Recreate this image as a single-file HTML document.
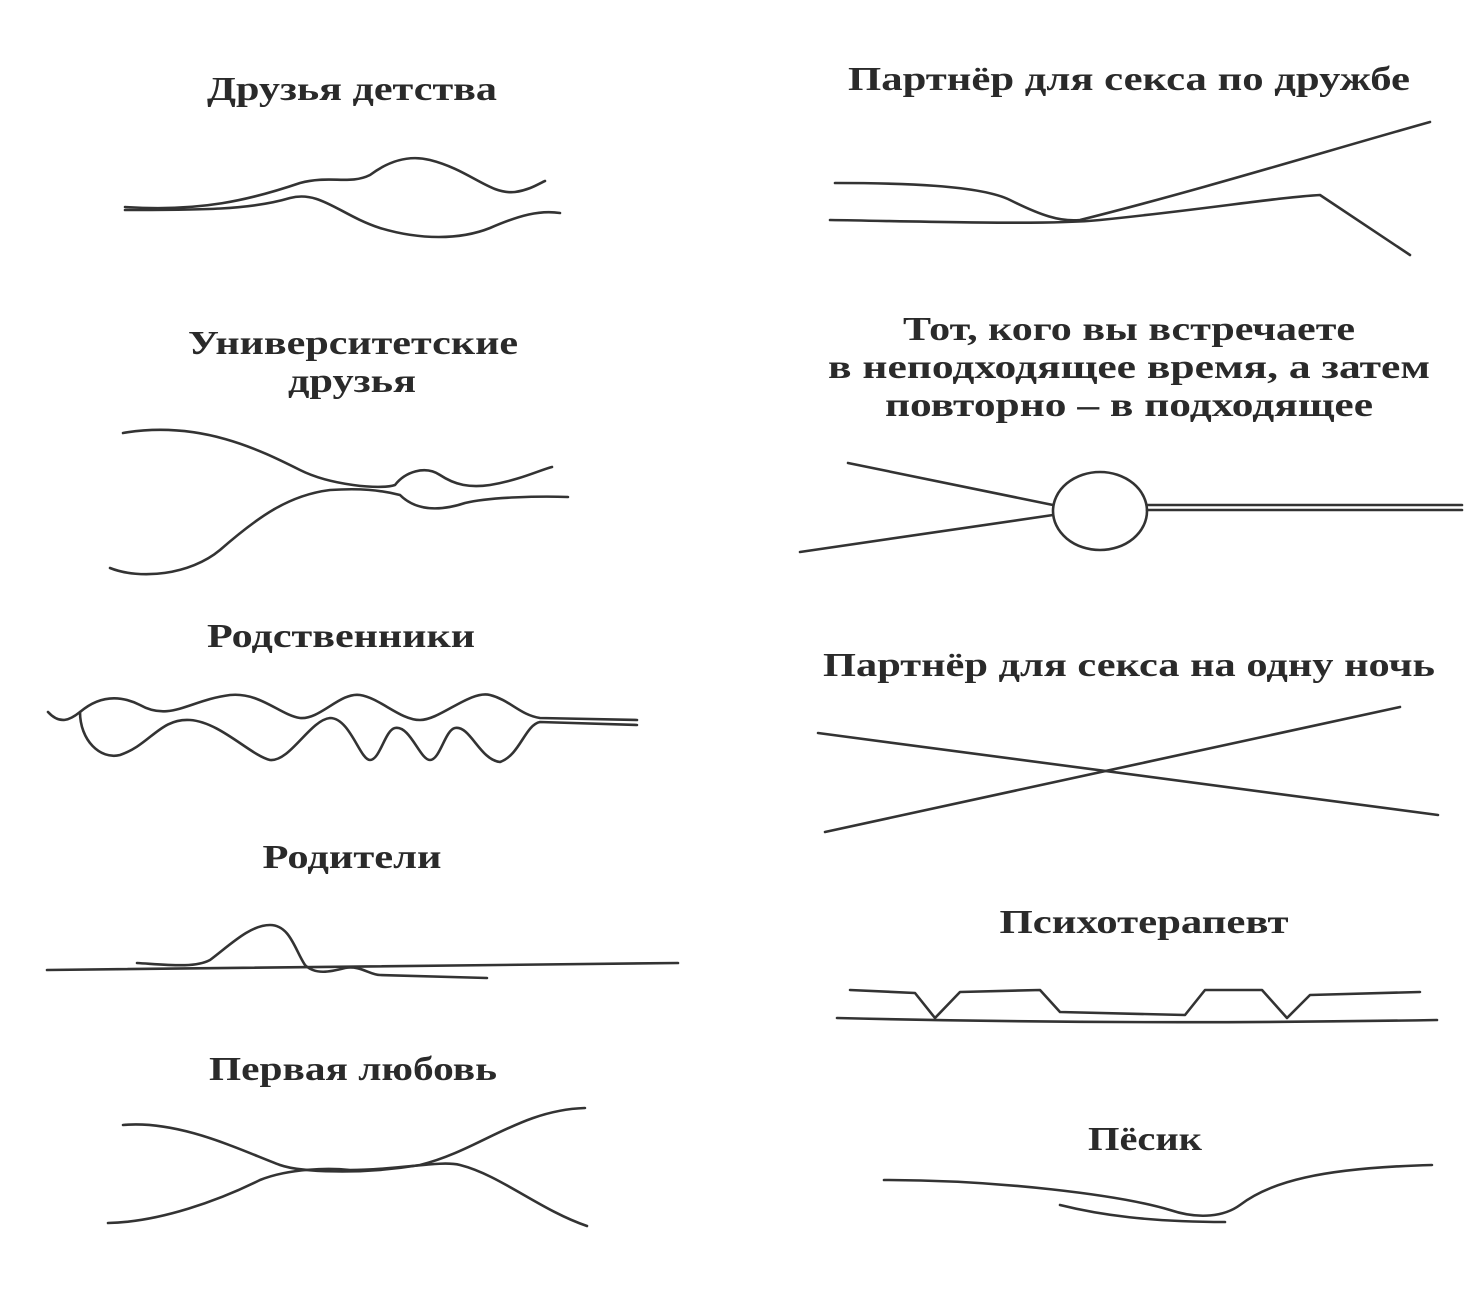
<!DOCTYPE html>
<html><head><meta charset="utf-8"><style>
html,body{margin:0;padding:0;background:#fff;}
svg{display:block}
text{font-family:"Liberation Serif","DejaVu Serif",serif;font-weight:bold;font-size:34px;fill:#2a2a2a;text-anchor:middle}
path,ellipse{fill:none;stroke:#333;stroke-width:2.6;stroke-linecap:round;stroke-linejoin:round}
</style></head><body>
<svg width="1472" height="1304" viewBox="0 0 1472 1304" xmlns="http://www.w3.org/2000/svg">
<rect width="1472" height="1304" fill="#fff"/>
<text x="352" y="100" textLength="290" lengthAdjust="spacingAndGlyphs">Друзья детства</text>
<text x="353" y="354" textLength="330" lengthAdjust="spacingAndGlyphs">Университетские</text>
<text x="352" y="392" textLength="128" lengthAdjust="spacingAndGlyphs">друзья</text>
<text x="341" y="647" textLength="268" lengthAdjust="spacingAndGlyphs">Родственники</text>
<text x="352" y="868" textLength="179" lengthAdjust="spacingAndGlyphs">Родители</text>
<text x="353" y="1080" textLength="288" lengthAdjust="spacingAndGlyphs">Первая любовь</text>
<text x="1129" y="90" textLength="562" lengthAdjust="spacingAndGlyphs">Партнёр для секса по дружбе</text>
<text x="1129" y="340" textLength="452" lengthAdjust="spacingAndGlyphs">Тот, кого вы встречаете</text>
<text x="1129" y="378" textLength="602" lengthAdjust="spacingAndGlyphs">в неподходящее время, а затем</text>
<text x="1129" y="416" textLength="488" lengthAdjust="spacingAndGlyphs">повторно – в подходящее</text>
<text x="1129" y="676" textLength="612" lengthAdjust="spacingAndGlyphs">Партнёр для секса на одну ночь</text>
<text x="1144" y="933" textLength="289" lengthAdjust="spacingAndGlyphs">Психотерапевт</text>
<text x="1145" y="1150" textLength="114" lengthAdjust="spacingAndGlyphs">Пёсик</text>

<path d="M125,207 C200,212 250,200 300,183 C330,175 350,185 370,175 C390,160 410,155 430,160 C470,170 490,195 515,192 C530,190 540,183 545,181"/>
<path d="M125,210 C200,210 250,210 290,198 C320,190 340,215 380,228 C420,240 460,240 490,228 C520,215 540,210 560,213"/>
<path d="M123,433 C200,420 260,450 300,470 C330,485 380,490 395,485 C405,472 425,465 440,475 C455,485 470,488 490,485 C520,480 540,470 552,467"/>
<path d="M110,568 C140,580 190,575 220,550 C260,515 290,495 330,490 C360,488 380,490 400,495 C420,515 450,508 465,503 C490,497 540,496 568,497"/>
<path d="M48,712 C60,725 70,720 80,712 C100,695 120,695 140,705 C170,722 190,700 230,695 C260,692 280,715 300,718 C320,720 340,692 360,695 C380,698 400,720 420,720 C440,720 470,690 490,695 C510,700 520,715 540,718 L637,720"/>
<path d="M80,712 C80,740 100,760 120,755 C150,745 160,718 190,720 C220,722 250,755 270,760 C290,762 310,720 330,718 C350,718 360,760 370,760 C380,760 385,730 395,728 C410,725 420,760 430,760 C440,760 445,730 455,728 C470,725 480,760 500,762 C520,755 525,725 540,722 L637,725"/>
<path d="M47,970 L678,963"/>
<path d="M137,963 C170,965 195,968 210,960 C230,945 250,925 270,925 C290,925 295,950 305,965 C315,975 330,972 345,968 C360,965 370,975 380,975 L487,978"/>
<path d="M123,1125 C180,1120 240,1150 280,1165 C300,1172 360,1175 420,1165 C480,1150 520,1110 585,1108"/>
<path d="M108,1223 C160,1222 220,1200 260,1180 C290,1168 330,1168 350,1170 C400,1170 440,1160 460,1165 C500,1175 540,1210 587,1226"/>
<path d="M835,183 C900,183 980,185 1010,200 C1040,215 1060,222 1080,220 C1200,190 1330,150 1430,122"/>
<path d="M830,220 C950,222 1050,225 1100,220 C1200,210 1280,197 1320,195 L1410,255"/>
<path d="M848,463 L1053,505"/>
<path d="M800,552 L1053,515"/>
<ellipse cx="1100" cy="511" rx="47" ry="39"/>
<path d="M1147,505 L1462,505"/>
<path d="M1147,510 L1462,510"/>
<path d="M818,733 L1438,815"/>
<path d="M825,832 L1400,707"/>
<path d="M837,1018 C1000,1022 1200,1024 1437,1020"/>
<path d="M850,990 L915,993 L935,1018 L960,992 L1040,990 L1060,1012 L1185,1015 L1205,990 L1262,990 L1287,1018 L1310,995 L1420,992"/>
<path d="M884,1180 C1000,1180 1120,1195 1170,1210 C1200,1220 1225,1216 1240,1205 C1270,1182 1320,1168 1432,1165"/>
<path d="M1060,1205 C1100,1215 1150,1222 1225,1222"/>
</svg>
</body></html>
